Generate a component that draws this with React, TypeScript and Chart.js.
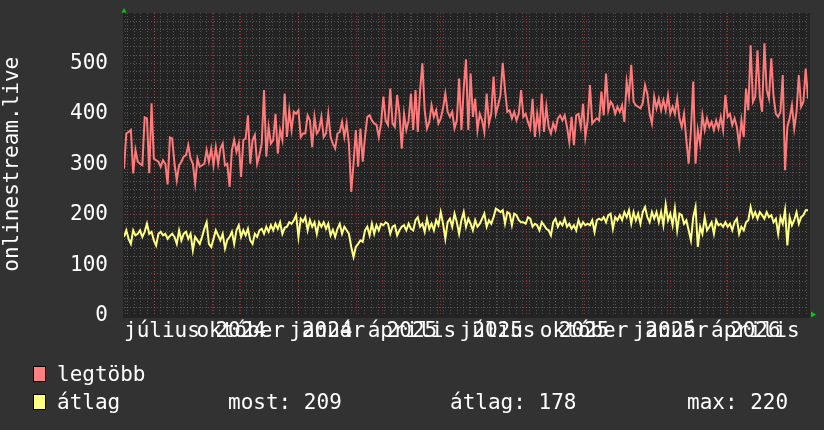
import React, { useEffect, useRef } from "react";
import { Chart, registerables } from "chart.js";

Chart.register(...registerables);

// ---- time range (days) ----
const startDate = "2024-05-30";
const endDate = "2026-05-27";

// ---- x-axis labels (month name + year overlaid, rrdtool style) ----
const labelDates = ["2024-07-01", "2024-10-01", "2025-01-01", "2025-04-01", "2025-07-01", "2025-10-01", "2026-01-01", "2026-04-01"];
const monthLabels = ["július", "október", "január", "április", "július", "október", "január", "április"];
const yearLabels = ["", "2024", "2024", "2025", "2025", "2025", "2025", "2026"];

// ---- y-axis ticks ----
const yTicks = [0, 100, 200, 300, 400, 500];
const yMax = 600;
const yMinorPerMajor = 6;

// ---- series ----
const legtobb = [
  291, 361, 364, 368, 282, 328, 305, 301, 298, 393,
  391, 282, 421, 311, 308, 305, 295, 308, 301, 260,
  353, 351, 301, 268, 298, 305, 315, 318, 338, 311,
  301, 262, 311, 295, 298, 301, 328, 305, 331, 298,
  334, 301, 331, 341, 298, 301, 255, 328, 348, 325,
  341, 275, 348, 351, 397, 301, 348, 358, 301, 318,
  341, 447, 315, 374, 341, 348, 400, 321, 368, 348,
  440, 354, 407, 368, 404, 400, 407, 354, 361, 361,
  397, 387, 334, 394, 361, 368, 394, 354, 361, 400,
  354, 341, 331, 361, 364, 384, 354, 381,
  340, 245, 301, 368, 295, 371, 305, 354, 394, 397,
  387, 381, 378, 354, 381, 434, 387, 378, 450, 381,
  374, 437, 400, 331, 400, 368, 387, 440, 368, 447,
  364, 447, 500, 407, 371, 384, 417, 394, 407, 381,
  391, 411, 440, 404, 394, 404, 371, 387, 470, 368,
  450, 508, 368, 480, 394, 430, 368, 400, 387, 364,
  440, 381, 400, 474, 400, 417, 437, 501, 447, 404,
  407, 391, 404, 387, 400, 447, 394, 400, 384, 371,
  430, 354, 400, 368, 440, 364, 414, 374, 361, 381,
  368, 391, 397, 387, 397, 374, 344, 394, 338, 397,
  400, 374, 420, 354, 387, 457, 381, 387, 391, 387,
  444, 397, 480, 407, 424, 417, 400, 414, 404, 417,
  384, 464, 434, 497, 424, 417, 414, 411, 421, 457,
  440, 400, 381, 434, 411, 430, 407, 427, 407, 437,
  400, 414, 400, 430, 391, 374, 400, 348, 301, 368,
  464, 301, 368, 341, 397, 368, 391, 374, 384, 368,
  387, 371, 394, 368, 437, 394, 400, 378, 391, 374,
  338, 387, 354, 450, 407, 536, 424, 434, 526, 434,
  404, 540, 447, 430, 510, 434, 400, 394, 404, 477,
  288, 374, 391, 417, 371, 404, 477, 414, 424, 490, 430,
];

const atlag = [
  156, 169, 152, 142, 169, 159, 162, 169, 156, 166,
  182, 162, 166, 149, 139, 162, 166, 159, 162, 152,
  158, 162, 156, 142, 169, 149, 162, 166, 152, 162, 129,
  156, 149, 142, 156, 172, 185, 142, 136, 152, 169,
  159, 149, 162, 133, 150, 156, 166, 142, 169, 179, 156,
  169, 159, 172, 149, 142, 162, 156, 169, 172, 162,
  176, 166, 179, 169, 182, 172, 185, 162, 174, 176, 185,
  182, 189, 199, 156, 192, 186, 195, 169, 189, 176, 185,
  162, 185, 176, 185, 172, 182, 159, 170, 156, 172, 182,
  162, 176, 169,
  162, 136, 116, 136, 142, 149, 146, 169, 176, 159,
  182, 162, 179, 169, 182, 179, 185, 182, 162,
  176, 179, 159, 169, 176, 179, 169, 182, 172, 169,
  189, 195, 176, 182, 166, 192, 172, 182, 169, 189,
  179, 205, 182, 152, 185, 192, 176, 202, 185, 162,
  189, 205, 176, 192, 182, 169, 189, 176, 182, 192,
  202, 176, 189, 182, 195, 212, 209, 205, 209, 182,
  205, 202, 179, 202, 199, 189, 185, 185, 182, 195,
  192, 176, 182, 179, 169, 185, 179, 172, 169,
  159, 185, 192, 176, 185, 179, 192, 176, 182, 172,
  179, 169,
  189, 176, 185, 179, 182, 179, 189, 166, 189,
  192, 189, 195, 185, 199, 202, 172, 195, 189, 199,
  189, 205, 195, 209, 182, 205, 189, 202, 182, 205,
  215, 195, 185, 205, 192, 205, 185, 205, 179, 220,
  189, 202, 179, 212, 169, 202, 199, 182, 189,
  169, 149, 195, 215, 136, 176, 162, 195, 169, 176,
  185, 162, 189, 179, 182, 176, 185, 176,
  182, 169, 185, 192, 162, 176, 169, 185, 189, 215,
  195, 205, 192, 205, 199, 192, 205, 195, 199, 185,
  192, 162, 195, 182, 209, 139, 195, 179, 189, 205,
  182, 195, 199, 209, 209,
];

// ---- legend ----
const seriesNames = ["legtöbb", "átlag"];
const statNames = ["most", "átlag", "max"];
const statValues = [209, 178, 220];

// ---- styles ----
const BG = "#323232";
const CANVAS_BG = "#232323";
const RED = "#ff7b7b";
const YELLOW = "#ffff80";
const MAJOR = "rgba(215,70,70,0.55)";
const MINOR = "rgba(150,150,150,0.42)";
const FONT = "'DejaVu Sans Mono', monospace";
const FSIZE = 21;

const DAY_MS = 86400000;
const parse = (iso: string) => {
  const [y, m, d] = iso.split("-").map(Number);
  return Date.UTC(y, m - 1, d);
};
const toDay = (iso: string) => (parse(iso) - parse(startDate)) / DAY_MS;
const spanDays = toDay(endDate);

function monthStartDays(): number[] {
  const out: number[] = [];
  const s = new Date(parse(startDate));
  let y = s.getUTCFullYear();
  let m = s.getUTCMonth() + 1;
  while (true) {
    const d = (Date.UTC(y, m, 1) - parse(startDate)) / DAY_MS;
    if (d > spanDays) break;
    if (d >= 0) out.push(d);
    m++;
    if (m > 11) { m = 0; y++; }
  }
  return out;
}

function weekDays(): number[] {
  const out: number[] = [];
  const s = new Date(parse(startDate));
  const dow = s.getUTCDay();
  const first = (8 - dow) % 7; // next monday
  for (let d = first; d <= spanDays; d += 7) out.push(d);
  return out;
}

const xLabelTicks: { value: number; text: string }[] = [];
labelDates.forEach((ld, i) => {
  const v = toDay(ld);
  xLabelTicks.push({ value: v, text: monthLabels[i] });
  if (yearLabels[i]) xLabelTicks.push({ value: v, text: yearLabels[i] });
});

const yMinorTicks: number[] = [];
for (let k = 1; k * (100 / yMinorPerMajor) < yMax; k++) {
  if (k % yMinorPerMajor !== 0) yMinorTicks.push((k * 100) / yMinorPerMajor);
}

const toPoints = (vals: number[]) =>
  vals.map((v, i) => ({ x: (i * spanDays) / (vals.length - 1), y: v }));

const bgPlugin = {
  id: "rrdBg",
  beforeDraw(chart: any) {
    const { ctx, chartArea: a } = chart;
    ctx.save();
    ctx.fillStyle = CANVAS_BG;
    ctx.fillRect(a.left - 1, a.top, a.right - a.left + 3, a.bottom - a.top + 2.5);
    ctx.restore();
  },
  afterDraw(chart: any) {
    const { ctx, chartArea: a } = chart;
    ctx.save();
    ctx.fillStyle = "#00cc00";
    ctx.beginPath();
    ctx.moveTo(a.left - 2.5, a.top - 0.5);
    ctx.lineTo(a.left + 2.5, a.top - 0.5);
    ctx.lineTo(a.left, a.top - 5);
    ctx.closePath();
    ctx.fill();
    ctx.beginPath();
    ctx.moveTo(a.right + 3, a.bottom - 4);
    ctx.lineTo(a.right + 3, a.bottom + 2);
    ctx.lineTo(a.right + 8, a.bottom - 1);
    ctx.closePath();
    ctx.fill();
    ctx.restore();
  },
};

const zeroSize = (axis: "x" | "y") => (s: any) => {
  if (axis === "x") s.height = 0;
  else s.width = 0;
  s.paddingTop = 0;
  s.paddingBottom = 0;
  s.paddingLeft = 0;
  s.paddingRight = 0;
};

const hiddenGridAxis = (axis: "x" | "y", ticks: number[], color: string, min: number, max: number) => ({
  type: "linear" as const,
  axis,
  position: axis === "x" ? "bottom" : "left",
  min,
  max,
  bounds: "data" as const,
  afterBuildTicks: (s: any) => {
    s.ticks = ticks.map((v) => ({ value: v }));
  },
  afterFit: zeroSize(axis),
  ticks: { display: false },
  grid: { color, lineWidth: 1, drawTicks: false },
  border: { display: false, dash: [1, 2] },
});

const labelTickFont = { family: FONT, size: FSIZE };

export default function App() {
  const ref = useRef<HTMLCanvasElement>(null);

  useEffect(() => {
    document.body.style.margin = "0";
    document.body.style.background = BG;
    const chart = new Chart(ref.current as HTMLCanvasElement, {
      type: "line",
      data: {
        datasets: [
          {
            label: seriesNames[0],
            data: toPoints(legtobb),
            borderColor: RED,
            borderWidth: 2,
            pointRadius: 0,
            tension: 0,
            xAxisID: "x",
            yAxisID: "y",
          },
          {
            label: seriesNames[1],
            data: toPoints(atlag),
            borderColor: YELLOW,
            borderWidth: 2,
            pointRadius: 0,
            tension: 0,
            xAxisID: "x",
            yAxisID: "y",
          },
        ],
      },
      options: {
        animation: false,
        responsive: false,
        layout: { padding: { left: 0, right: 16, top: 13, bottom: 86.5 } },
        plugins: { legend: { display: false }, tooltip: { enabled: false } },
        scales: {
          xw: hiddenGridAxis("x", weekDays(), MINOR, 0, spanDays) as any,
          xm: hiddenGridAxis("x", monthStartDays(), MAJOR, 0, spanDays) as any,
          ym: hiddenGridAxis("y", yMinorTicks, MINOR, 0, yMax) as any,
          x: {
            type: "linear",
            position: "bottom",
            min: 0,
            max: spanDays,
            bounds: "data",
            afterBuildTicks: (s: any) => {
              // labels are centred on their month; one that would stick out
              // past the plot start is pushed right so it starts at the edge
              const ctx = s.ctx as CanvasRenderingContext2D;
              ctx.save();
              ctx.font = `${FSIZE}px ${FONT}`;
              const daysPerPx = s.width > 0 ? (s.max - s.min) / s.width : 0;
              s.ticks = xLabelTicks.map((t) => {
                const half = ctx.measureText(t.text).width / 2;
                return { value: Math.max(t.value, s.min + half * daysPerPx) };
              });
              ctx.restore();
            },
            afterFit: (s: any) => {
              s.height = 28;
              s.paddingLeft = 0;
              s.paddingRight = 0;
            },
            ticks: {
              autoSkip: false,
              maxRotation: 0,
              minRotation: 0,
              padding: 3,
              color: "#ffffff",
              font: labelTickFont,
              callback: (_v: any, i: number) => xLabelTicks[i]?.text ?? "",
            },
            grid: { display: false, drawTicks: false },
            border: { display: false },
          },
          y: {
            type: "linear",
            position: "left",
            min: 0,
            max: yMax,
            bounds: "data",
            afterBuildTicks: (s: any) => {
              s.ticks = yTicks.map((v) => ({ value: v }));
            },
            afterFit: (s: any) => {
              s.width = 124;
              s.paddingTop = 0;
              s.paddingBottom = 0;
            },
            ticks: {
              padding: 16,
              color: "#ffffff",
              font: labelTickFont,
              callback: (v: any) => String(v),
            },
            grid: {
              drawTicks: false,
              lineWidth: 1,
              color: (ctx: any) => (ctx.tick && ctx.tick.value === 0 ? "rgba(0,0,0,0)" : MAJOR),
            },
            border: { display: false, dash: [1, 2] },
            title: {
              display: true,
              text: "onlinestream.live",
              color: "#ffffff",
              font: labelTickFont,
              padding: 0,
            },
          },
        },
      },
      plugins: [bgPlugin],
    });
    return () => chart.destroy();
  }, []);

  const textStyle: React.CSSProperties = {
    position: "absolute",
    font: `${FSIZE}px ${FONT}`,
    lineHeight: `${FSIZE}px`,
    color: "#ffffff",
    whiteSpace: "pre",
  };
  const boxStyle = (c: string, top: number): React.CSSProperties => ({
    position: "absolute",
    left: 33,
    top,
    width: 11,
    height: 14,
    background: c,
    border: "1px solid #000",
  });
  const statX = [228, 450, 687];

  return (
    <div style={{ position: "relative", width: 824, height: 430, background: BG, overflow: "hidden" }}>
      <canvas ref={ref} width={824} height={430} style={{ position: "absolute", left: 0, top: 0, width: 824, height: 430 }} />
      <div style={boxStyle("#ff8080", 366)} />
      <div style={{ ...textStyle, left: 57, top: 363.5 }}>{seriesNames[0]}</div>
      <div style={boxStyle("#ffff80", 394)} />
      <div style={{ ...textStyle, left: 57, top: 391.5 }}>{seriesNames[1]}</div>
      {statNames.map((n, i) => (
        <div key={n} style={{ ...textStyle, left: statX[i], top: 391.5 }}>
          {`${n}: ${statValues[i]}`}
        </div>
      ))}
    </div>
  );
}
